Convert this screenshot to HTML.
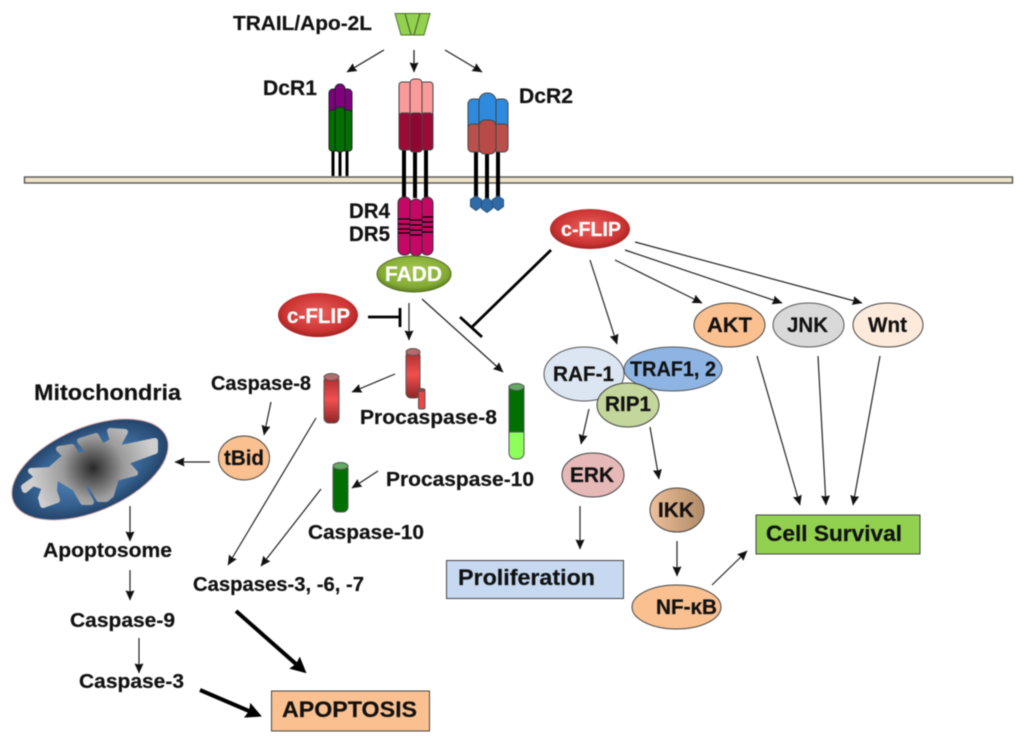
<!DOCTYPE html>
<html><head><meta charset="utf-8"><style>
html,body{margin:0;padding:0;background:#fff}
svg{display:block;filter:blur(.45px)}
text{font-family:"Liberation Sans",sans-serif;font-weight:bold;fill:#111;stroke:#111;stroke-width:.2}
.w{fill:#fff;stroke:#fff}
</style></head><body>
<svg width="1024" height="741" viewBox="0 0 1024 741" xmlns="http://www.w3.org/2000/svg">
<defs>
<marker id="a" markerUnits="userSpaceOnUse" markerWidth="12" markerHeight="12" refX="9.5" refY="5" orient="auto"><path d="M0 .5L10 5L0 9.500L1 5Z" fill="#111"/></marker>
<marker id="b" markerUnits="userSpaceOnUse" markerWidth="20" markerHeight="20" refX="2" refY="8" orient="auto"><path d="M0 0L16 8L0 16L2 8Z" fill="#000"/></marker>
<radialGradient id="red" cx=".5" cy=".45" r=".6"><stop offset="0" stop-color="#e8605c"/><stop offset=".7" stop-color="#cc3432"/><stop offset="1" stop-color="#8e1d1c"/></radialGradient>
<radialGradient id="grn" cx=".5" cy=".4" r=".6"><stop offset="0" stop-color="#a5c552"/><stop offset=".75" stop-color="#84ac35"/><stop offset="1" stop-color="#5f7f22"/></radialGradient>
<linearGradient id="cr" x1="0" y1="0" x2="0" y2="1"><stop offset="0" stop-color="#a82c2c"/><stop offset=".5" stop-color="#f25050"/><stop offset="1" stop-color="#902424"/></linearGradient>
<radialGradient id="mb" cx=".5" cy=".5" r=".55"><stop offset="0" stop-color="#5c90c8"/><stop offset=".65" stop-color="#35608f"/><stop offset="1" stop-color="#1d3a5c"/></radialGradient>
<radialGradient id="mg" gradientUnits="userSpaceOnUse" cx="93" cy="468" r="62"><stop offset="0" stop-color="#282828"/><stop offset=".5" stop-color="#9c9c9c"/><stop offset="1" stop-color="#cfcfcf"/></radialGradient>
<linearGradient id="ik" x1="0" y1="0" x2="1" y2="0"><stop offset="0" stop-color="#efc09a"/><stop offset="1" stop-color="#b08a68"/></linearGradient>
</defs>

<!-- membrane -->
<rect x="24.500" y="177" width="988" height="6" fill="#efe4c8" stroke="#555" stroke-width="1.400"/>

<!-- trail -->
<path d="M395 13.500H430L424 35H401Z" fill="#92d050" stroke="#4f6f28" stroke-width="1"/>
<path d="M405 13.500L411 35M420 13.500L414 35" stroke="#3c5a1e" stroke-width="1" fill="none"/>
<g stroke="#222" stroke-width="1.300" fill="none">
<path d="M384 50L347 72" marker-end="url(#a)"/><path d="M414 50V72" marker-end="url(#a)"/><path d="M445 50L482 72" marker-end="url(#a)"/>
</g>

<!-- DcR1 -->
<g stroke="#000" stroke-width="3"><path d="M333 150V176M340 150V176M347 150V176"/></g>
<g stroke="#222" stroke-width="1">
<rect x="329" y="89" width="10" height="35" rx="4" fill="#800080"/><rect x="342" y="89" width="10" height="35" rx="4" fill="#800080"/>
<rect x="329" y="110" width="10" height="41" rx="3" fill="#007000"/><rect x="342" y="110" width="10" height="41" rx="3" fill="#007000"/>
<rect x="335" y="84" width="10" height="35" rx="5" fill="#800080"/>
<rect x="335" y="107" width="10" height="45" rx="4.500" fill="#007000"/>
</g>

<!-- DR center -->
<g stroke="#000" stroke-width="4"><path d="M404 150V198M415 150V198M426 150V198"/></g>
<g stroke="#444" stroke-width="1">
<rect x="399" y="82" width="12" height="40" rx="3" fill="#fb9a9a"/><rect x="421" y="82" width="12" height="40" rx="3" fill="#fb9a9a"/>
<rect x="399" y="113" width="12" height="37" rx="3" fill="#9c0a38"/><rect x="421" y="113" width="12" height="37" rx="3" fill="#9c0a38"/>
<rect x="410" y="79" width="12" height="43" rx="4" fill="#fb9a9a"/>
<rect x="410" y="113" width="12" height="39" rx="3" fill="#8f0632"/>
</g>
<g stroke="#333" stroke-width="1" fill="#c40864">
<rect x="398" y="197" width="13" height="58" rx="6"/><rect x="421" y="197" width="12" height="58" rx="6"/><rect x="410" y="199" width="12" height="57" rx="6"/>
</g>
<g stroke="#000" stroke-width="1.300" fill="none"><path d="M398 219H410M398 224H410M398 229H410M398 233H410M410 220H422M410 225H422M410 230H422M410 235H422M422 217H433M422 222H433M422 227H433M422 232H433"/></g>

<!-- DcR2 -->
<g stroke="#000" stroke-width="4"><path d="M476 152V197M487 152V200M498 152V197"/></g>
<g fill="#2f6ba6" stroke="#28527f" stroke-width="1">
<path d="M476 196l5.500 3.500v7l-5.500 4-5.500-4v-7z"/><path d="M487 198l5.500 3.500v7l-5.500 4-5.500-4v-7z"/><path d="M498 196l5.500 3.500v7l-5.500 4-5.500-4v-7z"/>
</g>
<g stroke="#444" stroke-width="1">
<rect x="468" y="99" width="14" height="40" rx="5" fill="#2e8ade"/><rect x="494" y="99" width="14" height="40" rx="5" fill="#2e8ade"/>
<rect x="468" y="124" width="14" height="28" rx="4" fill="#bb4f4b"/><rect x="494" y="124" width="14" height="28" rx="4" fill="#bb4f4b"/>
<rect x="479" y="93" width="17" height="40" rx="8" fill="#2e8ade"/>
<rect x="479" y="120" width="17" height="34" rx="6" fill="#b84a47"/>
</g>

<!-- FADD -->
<ellipse cx="414" cy="274" rx="37" ry="18" fill="url(#grn)" stroke="#4f6a1e" stroke-width="1"/>
<text class="w" x="385" y="281" font-size="21" textLength="57" lengthAdjust="spacingAndGlyphs">FADD</text>

<!-- c-FLIPs -->
<ellipse cx="590" cy="229" rx="40" ry="20" fill="url(#red)"/>
<text class="w" x="561" y="236" font-size="20" textLength="60" lengthAdjust="spacingAndGlyphs">c-FLIP</text>
<ellipse cx="318" cy="315" rx="40" ry="22" fill="url(#red)"/>
<text class="w" x="287" y="323" font-size="21" textLength="63" lengthAdjust="spacingAndGlyphs">c-FLIP</text>

<!-- inhibitors -->
<g stroke="#000" stroke-width="2.800" fill="none">
<path d="M368 317H400M400 308V327"/>
<path d="M551 250L472 327M460 317L482 337"/>
</g>

<!-- thin arrows -->
<g stroke="#222" stroke-width="1.200" fill="none">
<path d="M409 303V340" marker-end="url(#a)"/>
<path d="M422 299L503 372" marker-end="url(#a)"/>
<path d="M590 260L617 344" marker-end="url(#a)"/>
<path d="M615 260L702 303" marker-end="url(#a)"/>
<path d="M625 250L782 303" marker-end="url(#a)"/>
<path d="M635 242L862 303" marker-end="url(#a)"/>
<path d="M589 409L581 444" marker-end="url(#a)"/>
<path d="M650 427L659 479" marker-end="url(#a)"/>
<path d="M580 506V549" marker-end="url(#a)"/>
<path d="M677 541V576" marker-end="url(#a)"/>
<path d="M712 585L747 551" marker-end="url(#a)"/>
<path d="M757 356L800 505" marker-end="url(#a)"/>
<path d="M818 356L826 505" marker-end="url(#a)"/>
<path d="M880 356L853 505" marker-end="url(#a)"/>
<path d="M395 374L352 392" marker-end="url(#a)"/>
<path d="M378 471L352 488" marker-end="url(#a)"/>
<path d="M316 418L228 565" marker-end="url(#a)"/>
<path d="M321 489L261 566" marker-end="url(#a)"/>
<path d="M271 402L264 435" marker-end="url(#a)"/>
<path d="M210 462H175" marker-end="url(#a)"/>
<path d="M130 506V541" marker-end="url(#a)"/>
<path d="M130 570V600" marker-end="url(#a)"/>
<path d="M139 638V673" marker-end="url(#a)"/>
</g>
<g stroke="#000" stroke-width="4" fill="none">
<path d="M236 611L296 664" marker-end="url(#b)"/>
<path d="M200 690L249 711" marker-end="url(#b)"/>
</g>

<!-- cylinders -->
<g stroke="#555" stroke-width="1">
<rect x="406" y="351" width="14" height="47" rx="5" fill="url(#cr)"/><ellipse cx="413" cy="352" rx="7" ry="3.500" fill="#b86a6a"/>
<rect x="418.500" y="389" width="6.500" height="20" rx="1.500" fill="#ee4444"/><ellipse cx="421.700" cy="390" rx="3.200" ry="1.500" fill="#a04040"/>
<rect x="324" y="376" width="15" height="47" rx="5" fill="url(#cr)"/><ellipse cx="331.500" cy="377" rx="7.500" ry="3.500" fill="#b86a6a"/>
<rect x="333" y="464" width="15" height="48" rx="5" fill="#007000"/><ellipse cx="340.500" cy="466" rx="7.500" ry="3.500" fill="#64a864"/>
<path d="M509 431H524V453a6 6 0 0 1-6 6h-3a6 6 0 0 1-6-6Z" fill="#8cff5c"/>
<path d="M509 386H524V432H509Z" fill="#007000"/><ellipse cx="516.500" cy="387" rx="7.500" ry="3.500" fill="#64a864"/>
</g>

<!-- mitochondrion -->
<ellipse cx="90" cy="469.500" rx="83" ry="42" transform="rotate(-23 90 469.500)" fill="url(#mb)" stroke="#d8a8a8" stroke-width="1"/>
<path d="M31 471L50 470L66 456L59 449L72 447L78 457L89 452L80 441L96 436L102 447L113 441L110 431L125 432L116 449L155 441L155 451L125 462L135 473L116 478L111 495L106 499L99 499L90 483L82 486L91 502L83 502L75 488L55 476L54 491L57 500L43 505L41 498L45 487L33 483L25 490L24 487L38 477Z" fill="url(#mg)" stroke="url(#mg)" stroke-width="6" stroke-linejoin="round"/>

<!-- nodes -->
<ellipse cx="244" cy="458" rx="25.500" ry="22" fill="#fac090" stroke="#444" stroke-width="1"/>
<ellipse cx="729.500" cy="325" rx="35.500" ry="22" fill="#fac090" stroke="#444" stroke-width="1"/>
<ellipse cx="808.500" cy="325" rx="35.500" ry="22" fill="#d9d9d9" stroke="#555" stroke-width="1"/>
<ellipse cx="888" cy="325" rx="35" ry="22" fill="#fdeada" stroke="#444" stroke-width="1"/>
<ellipse cx="584" cy="374" rx="40" ry="27" fill="#dce6f2" stroke="#555" stroke-width="1"/>
<ellipse cx="673" cy="369" rx="49" ry="22" fill="#8eb4e3" stroke="#555" stroke-width="1"/>
<ellipse cx="628" cy="405" rx="31" ry="22" fill="#c3d69b" stroke="#444" stroke-width="1"/>
<ellipse cx="593" cy="475" rx="31" ry="22" fill="#e6b9b8" stroke="#444" stroke-width="1"/>
<ellipse cx="677" cy="510" rx="27" ry="22" fill="url(#ik)" stroke="#444" stroke-width="1"/>
<ellipse cx="676.500" cy="607" rx="44.500" ry="22" fill="#fac090" stroke="#444" stroke-width="1"/>

<rect x="756" y="515" width="164" height="39" fill="#92d050" stroke="#444" stroke-width="1"/>
<rect x="446.500" y="560.500" width="177" height="38" fill="#c6d9f1" stroke="#444" stroke-width="1"/>
<rect x="271.500" y="691" width="158" height="40" fill="#fac090" stroke="#444" stroke-width="1"/>

<!-- labels -->
<text x="233" y="30" font-size="20.500" textLength="139" lengthAdjust="spacingAndGlyphs">TRAIL/Apo-2L</text>
<text x="263" y="95" font-size="21" textLength="54" lengthAdjust="spacingAndGlyphs">DcR1</text>
<text x="519" y="103" font-size="21" textLength="54" lengthAdjust="spacingAndGlyphs">DcR2</text>
<text x="349" y="218" font-size="21" textLength="41" lengthAdjust="spacingAndGlyphs">DR4</text>
<text x="349" y="241" font-size="21" textLength="41" lengthAdjust="spacingAndGlyphs">DR5</text>
<text x="34" y="400" font-size="22" textLength="147" lengthAdjust="spacingAndGlyphs">Mitochondria</text>
<text x="211" y="390" font-size="20" textLength="100" lengthAdjust="spacingAndGlyphs">Caspase-8</text>
<text x="360" y="424" font-size="20" textLength="137" lengthAdjust="spacingAndGlyphs">Procaspase-8</text>
<text x="386" y="486" font-size="20" textLength="148" lengthAdjust="spacingAndGlyphs">Procaspase-10</text>
<text x="308" y="539" font-size="20" textLength="116" lengthAdjust="spacingAndGlyphs">Caspase-10</text>
<text x="193" y="591" font-size="20" textLength="171" lengthAdjust="spacingAndGlyphs">Caspases-3, -6, -7</text>
<text x="43" y="557" font-size="20" textLength="129" lengthAdjust="spacingAndGlyphs">Apoptosome</text>
<text x="70" y="627" font-size="20" textLength="105" lengthAdjust="spacingAndGlyphs">Caspase-9</text>
<text x="79" y="688" font-size="20" textLength="105" lengthAdjust="spacingAndGlyphs">Caspase-3</text>
<text x="224" y="465" font-size="21" textLength="40" lengthAdjust="spacingAndGlyphs">tBid</text>
<text x="707" y="332" font-size="21" textLength="45" lengthAdjust="spacingAndGlyphs">AKT</text>
<text x="787" y="332" font-size="21" textLength="41" lengthAdjust="spacingAndGlyphs">JNK</text>
<text x="868" y="332" font-size="21" textLength="39" lengthAdjust="spacingAndGlyphs">Wnt</text>
<text x="553" y="381" font-size="21" textLength="61" lengthAdjust="spacingAndGlyphs">RAF-1</text>
<text x="630" y="376" font-size="21" textLength="86" lengthAdjust="spacingAndGlyphs">TRAF1, 2</text>
<text x="605" y="411" font-size="21" textLength="46" lengthAdjust="spacingAndGlyphs">RIP1</text>
<text x="570" y="482" font-size="21" textLength="44" lengthAdjust="spacingAndGlyphs">ERK</text>
<text x="658" y="517" font-size="21" textLength="36" lengthAdjust="spacingAndGlyphs">IKK</text>
<text x="656" y="614" font-size="21" textLength="61" lengthAdjust="spacingAndGlyphs">NF-κB</text>
<text x="766" y="541" font-size="22" textLength="136" lengthAdjust="spacingAndGlyphs">Cell Survival</text>
<text x="458" y="585" font-size="22" textLength="137" lengthAdjust="spacingAndGlyphs">Proliferation</text>
<text x="282" y="717" font-size="22" textLength="135" lengthAdjust="spacingAndGlyphs">APOPTOSIS</text>
</svg>
</body></html>
